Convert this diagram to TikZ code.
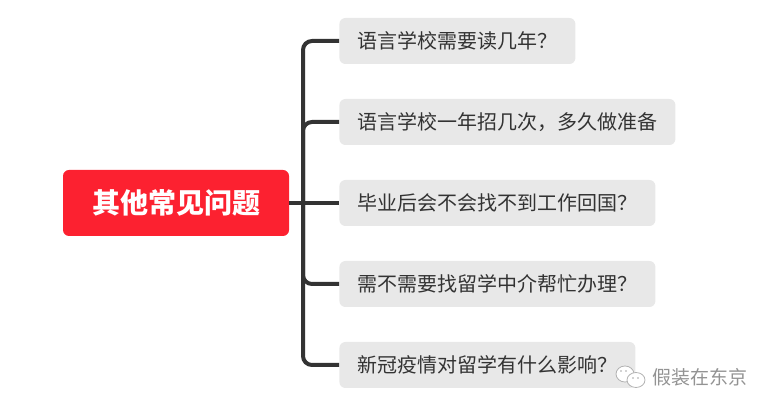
\documentclass[tikz,border=0pt]{standalone}
\usepackage{fontspec}
\newfontfamily\cjk{Noto Sans CJK SC}
\definecolor{rootred}{HTML}{FC2130}
\definecolor{boxgray}{HTML}{E8E8E8}
\definecolor{linkgray}{HTML}{333333}
\begin{document}
\begin{tikzpicture}[x=1pt,y=1pt,grow=east,level distance=50pt,sibling distance=81pt,growth parent anchor=east]
\tikzstyle{rootbox}=[fill=rootred,text=white,rounded corners=6pt,inner xsep=29pt,inner ysep=0pt,minimum height=66pt,font=\cjk\bfseries\fontsize{28}{32}\selectfont]
\tikzstyle{every child node}=[anchor=west,fill=boxgray,text=linkgray,rounded corners=6pt,inner xsep=18pt,inner ysep=0pt,minimum height=46pt,font=\cjk\fontsize{20}{24}\selectfont]
\tikzstyle{edge from parent}=[draw=none]
\tikzstyle{link}=[draw=linkgray,line width=4pt,rounded corners=9pt]
\tikzstyle{bubble}=[draw=gray!60,fill=white,line width=0.8pt]
\useasboundingbox (0,0) rectangle (771,-411);
\node[rootbox] (root) at (176,-203) {其他常见问题}
child {node (q5) {新冠疫情对留学有什么影响？}}
child {node (q4) {需不需要找留学中介帮忙办理？}}
child {node (q3) {毕业后会不会找不到工作回国？}}
child {node (q2) {语言学校一年招几次，多久做准备}}
child {node (q1) {语言学校需要读几年？}}
;
\coordinate (trunk) at (303,-203);
\draw[link] (root.east) -- (q3.west);
\foreach \q in {q1,q2,q4,q5}
\draw[link] (trunk) |- (\q.west);
\draw[bubble] (625,-374) ellipse (9 and 8);
\draw[bubble] (636,-380) ellipse (9 and 7.5);
\fill[gray!70] (621,-371) circle (0.8) (626,-371) circle (0.8) (633,-378) circle (0.8) (638,-378) circle (0.8);
\node[text=gray!85,inner sep=0pt,font=\cjk\fontsize{19}{23}\selectfont] (mark) at (700,-377) {假装在东京};
\end{tikzpicture}
\end{document}
